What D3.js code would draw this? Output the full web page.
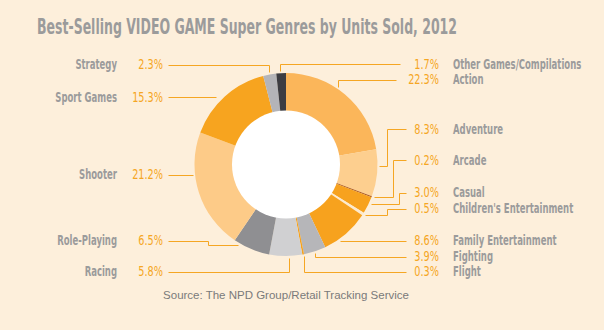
<!DOCTYPE html>
<html>
<head>
<meta charset="utf-8">
<script src="https://cdn.jsdelivr.net/npm/d3@7"></script>
<style>
  html, body { margin: 0; padding: 0; background: #fdefdb; }
  svg { display: block; }
</style>
</head>
<body>
<svg id="chart" width="604" height="330"></svg>
<script>
// ---- data ----
const genres = ["Action", "Adventure", "Arcade", "Casual", "Children's Entertainment",
  "Family Entertainment", "Fighting", "Flight", "Racing", "Role-Playing", "Shooter",
  "Sport Games", "Strategy", "Other Games/Compilations"];
const shares = [22.3, 8.3, 0.2, 3.0, 0.5, 8.6, 3.9, 0.3, 5.8, 6.5, 21.2, 15.3, 2.3, 1.7];
const titleText = "Best-Selling VIDEO GAME Super Genres by Units Sold, 2012";
const sourceText = "Source: The NPD Group/Retail Tracking Service";

// ---- styles / layout ----
const colors = ["#fbb65a", "#fdcf8f", "#a9561f", "#f7a21e", "#fdeacd",
  "#f7a21e", "#b6b6b9", "#f5a21e", "#d0d0d2", "#8f8f92", "#fdcb88",
  "#f7a41f", "#b4b4b8", "#3d3d42"];
const cx = 286, cy = 164.5, R = 91.5, r0 = 54, anchorR = 93.5;
const leftNameX = 117, leftPctX = 163, leftLineX = 168;
const rightPctX = 439, rightNameX = 453, rightLineX = 406;
const layout = {
  "Action": {side: "R", y: 79.5, route: "v", f: 0.42, end: 396},
  "Adventure": {side: "R", y: 129, route: "e", ex: 386.5, f: 0.35},
  "Arcade": {side: "R", y: 160, route: "e", ex: 393, f: 0.0},
  "Casual": {side: "R", y: 192.5, route: "e", ex: 398.5, f: 0.35},
  "Children's Entertainment": {side: "R", y: 208.5, route: "e", ex: 386.5, f: 0.5},
  "Family Entertainment": {side: "R", y: 240.5, route: "h"},
  "Fighting": {side: "R", y: 256.5, route: "v", f: 0.5},
  "Flight": {side: "R", y: 271.5, route: "v", f: 0.5},
  "Racing": {side: "L", y: 271.5, route: "v", f: 0.4},
  "Role-Playing": {side: "L", y: 240.5, route: "e", ex: 207.5, f: 0.85},
  "Shooter": {side: "L", y: 174.5, route: "h"},
  "Sport Games": {side: "L", y: 97, route: "h", off: 4},
  "Strategy": {side: "L", y: 64.5, route: "v", f: 0.5},
  "Other Games/Compilations": {side: "R", y: 64, route: "v", f: 0.4, end: 400}
};

const svg = d3.select("#chart");
svg.append("rect").attr("width", 604).attr("height", 330).attr("fill", "#fdefdb");

const condensed = "'Liberation Sans Narrow', 'DejaVu Sans Condensed', 'Liberation Sans', sans-serif";

// title
svg.append("text")
  .attr("x", 37).attr("y", 34)
  .attr("font-family", condensed).attr("font-weight", "bold")
  .attr("font-size", 21).attr("fill", "#9b9b9b")
  .attr("textLength", 420).attr("lengthAdjust", "spacingAndGlyphs")
  .text(titleText);

// donut
const pie = d3.pie().sort(null).value(d => d);
const arcs = pie(shares);
const arc = d3.arc().innerRadius(r0 - 1).outerRadius(R);
const g = svg.append("g").attr("transform", `translate(${cx},${cy})`);
g.selectAll("path").data(arcs).join("path")
  .attr("d", arc).attr("fill", (d, i) => colors[i]);
g.append("circle").attr("r", r0).attr("fill", "#ffffff");

// leaders and labels
const lineColor = "#f5a623";
const lg = svg.append("g");
function pt(a, rad) { return [cx + rad * Math.sin(a), cy - rad * Math.cos(a)]; }

arcs.forEach((d, i) => {
  const name = genres[i];
  const L = layout[name];
  const y = L.y;
  const left = L.side === "L";
  const startX = left ? leftLineX : (L.end || rightLineX);
  const f = (L.f === undefined) ? 0.5 : L.f;
  const a = d.startAngle + (d.endAngle - d.startAngle) * f;
  const [ax, ay] = pt(a, anchorR);
  let pts;
  if (L.route === "h") {
    const dy = y - cy;
    const rr = anchorR + (L.off || 0);
    const dx = Math.sqrt(rr * rr - dy * dy);
    pts = [[startX, y], [left ? cx - dx : cx + dx, y]];
  } else if (L.route === "v") {
    pts = [[startX, y], [ax, y], [ax, ay]];
  } else {
    pts = [[startX, y], [L.ex, y], [L.ex, ay], [ax, ay]];
  }
  lg.append("path")
    .attr("d", d3.line()(pts.map(p => [Math.round(p[0]) + 0.5, Math.round(p[1]) + 0.5])))
    .attr("fill", "none").attr("stroke", lineColor).attr("stroke-width", 1);

  const pct = d3.format(".1f")(shares[i]) + "%";
  svg.append("text")
    .attr("class", "pct")
    .attr("x", left ? leftPctX : rightPctX).attr("y", y)
    .attr("dy", "0.36em").attr("text-anchor", "end")
    .attr("font-family", condensed).attr("font-size", 13.5)
    .attr("fill", "#f5a623").text(pct);
  svg.append("text")
    .attr("class", "name")
    .attr("x", left ? leftNameX : rightNameX).attr("y", y)
    .attr("dy", "0.36em").attr("text-anchor", left ? "end" : "start")
    .attr("font-family", condensed).attr("font-weight", "bold").attr("font-size", 13.5)
    .attr("fill", "#9b9b9b").text(name);
});

// horizontally condense labels (the reference uses a very condensed face)
svg.selectAll("text.pct").each(function() {
  const w = this.getComputedTextLength();
  d3.select(this).attr("textLength", w * 0.8).attr("lengthAdjust", "spacingAndGlyphs");
});
svg.selectAll("text.name").each(function() {
  const w = this.getComputedTextLength();
  d3.select(this).attr("textLength", w * 0.7).attr("lengthAdjust", "spacingAndGlyphs");
});

// source
svg.append("text")
  .attr("x", 286).attr("y", 295).attr("dy", "0.35em")
  .attr("text-anchor", "middle")
  .attr("font-family", "'Liberation Sans', Arial, sans-serif")
  .attr("font-size", 11.5).attr("fill", "#7a7a7a")
  .text(sourceText);
</script>
</body>
</html>
